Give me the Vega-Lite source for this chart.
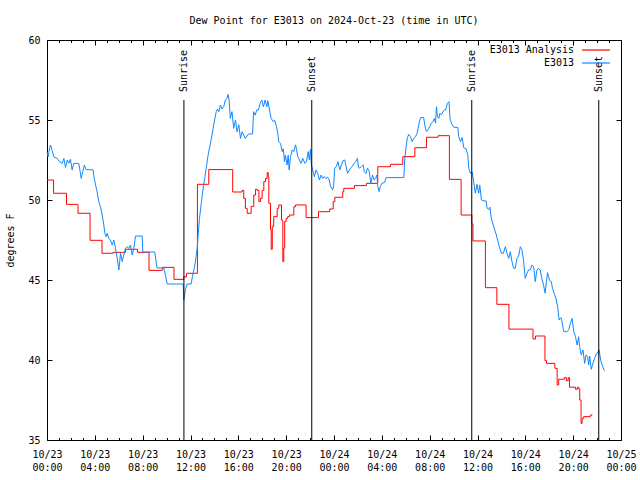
{
  "$schema": "https://vega.github.io/schema/vega-lite/v6.json",
  "width": 574,
  "height": 400,
  "autosize": {"type": "none"},
  "padding": {"left": 47, "top": 40, "right": 19, "bottom": 40},
  "background": "white",
  "config": {
    "font": "DejaVu Sans Mono",
    "view": {"stroke": "black", "strokeWidth": 1},
    "axis": {"grid": false, "domain": false, "labelFont": "DejaVu Sans Mono", "labelFontSize": 10, "labelColor": "black", "tickColor": "black", "titleFont": "DejaVu Sans Mono", "titleFontSize": 10, "titleFontWeight": "normal", "titleColor": "black"}
  },
  "title": {"text": "Dew Point for E3013 on 2024-Oct-23 (time in UTC)", "font": "DejaVu Sans Mono", "fontSize": 10, "fontWeight": "normal", "anchor": "middle", "offset": 9, "color": "black"},
  "datasets": {
    "analysis": [
      {"hour": 0, "dewpoint": 51.25}, {"hour": 0.55, "dewpoint": 50.42}, {"hour": 1.63, "dewpoint": 49.73}, {"hour": 2.59, "dewpoint": 49.17},
      {"hour": 3.6, "dewpoint": 47.48}, {"hour": 4.6, "dewpoint": 46.67}, {"hour": 5.53, "dewpoint": 46.73}, {"hour": 6.56, "dewpoint": 46.92},
      {"hour": 7.57, "dewpoint": 46.73}, {"hour": 8.53, "dewpoint": 45.6}, {"hour": 9.64, "dewpoint": 45.79}, {"hour": 10.62, "dewpoint": 45.04},
      {"hour": 11.44, "dewpoint": 45.2}, {"hour": 11.67, "dewpoint": 45.42}, {"hour": 12.58, "dewpoint": 50.98}, {"hour": 13.53, "dewpoint": 51.9},
      {"hour": 15.53, "dewpoint": 50.5}, {"hour": 16.31, "dewpoint": 50.6}, {"hour": 16.45, "dewpoint": 50.1}, {"hour": 16.59, "dewpoint": 49.48},
      {"hour": 16.74, "dewpoint": 49.17}, {"hour": 17.07, "dewpoint": 49.6}, {"hour": 17.29, "dewpoint": 50.31}, {"hour": 17.44, "dewpoint": 50.67},
      {"hour": 17.58, "dewpoint": 50.6}, {"hour": 17.72, "dewpoint": 49.9}, {"hour": 17.85, "dewpoint": 50.1}, {"hour": 17.99, "dewpoint": 50.6},
      {"hour": 18.13, "dewpoint": 51.15}, {"hour": 18.27, "dewpoint": 51.35}, {"hour": 18.41, "dewpoint": 51.71}, {"hour": 18.5, "dewpoint": 51.46},
      {"hour": 18.55, "dewpoint": 49.79}, {"hour": 18.69, "dewpoint": 48.13}, {"hour": 18.75, "dewpoint": 46.92}, {"hour": 18.84, "dewpoint": 48.33},
      {"hour": 18.96, "dewpoint": 48.96}, {"hour": 19.25, "dewpoint": 49.48}, {"hour": 19.38, "dewpoint": 49.69}, {"hour": 19.61, "dewpoint": 48.75},
      {"hour": 19.72, "dewpoint": 46.15}, {"hour": 19.8, "dewpoint": 47.0}, {"hour": 19.88, "dewpoint": 48.65}, {"hour": 20.0, "dewpoint": 48.85},
      {"hour": 20.13, "dewpoint": 48.96}, {"hour": 20.28, "dewpoint": 49.06}, {"hour": 20.64, "dewpoint": 49.58}, {"hour": 20.78, "dewpoint": 49.69},
      {"hour": 21.67, "dewpoint": 48.9}, {"hour": 22.7, "dewpoint": 49.27}, {"hour": 23.64, "dewpoint": 49.44}, {"hour": 23.93, "dewpoint": 49.9},
      {"hour": 24.07, "dewpoint": 50.17}, {"hour": 24.73, "dewpoint": 50.52}, {"hour": 24.82, "dewpoint": 50.73}, {"hour": 25.71, "dewpoint": 50.9},
      {"hour": 26.71, "dewpoint": 51.04}, {"hour": 27.66, "dewpoint": 52.08}, {"hour": 28.72, "dewpoint": 52.23}, {"hour": 29.75, "dewpoint": 52.71},
      {"hour": 30.76, "dewpoint": 53.27}, {"hour": 31.73, "dewpoint": 53.92}, {"hour": 32.71, "dewpoint": 54.02}, {"hour": 33.65, "dewpoint": 51.29},
      {"hour": 34.63, "dewpoint": 49.06}, {"hour": 35.53, "dewpoint": 48.5}, {"hour": 35.62, "dewpoint": 47.44}, {"hour": 36.66, "dewpoint": 44.52},
      {"hour": 37.62, "dewpoint": 43.48}, {"hour": 38.63, "dewpoint": 41.93}, {"hour": 40.64, "dewpoint": 41.31}, {"hour": 40.85, "dewpoint": 41.5},
      {"hour": 41.64, "dewpoint": 39.96}, {"hour": 41.77, "dewpoint": 39.79}, {"hour": 42.47, "dewpoint": 39.48}, {"hour": 42.66, "dewpoint": 38.44},
      {"hour": 42.79, "dewpoint": 38.8}, {"hour": 43.26, "dewpoint": 38.9}, {"hour": 43.43, "dewpoint": 38.7}, {"hour": 43.58, "dewpoint": 38.9},
      {"hour": 43.69, "dewpoint": 38.3}, {"hour": 44.19, "dewpoint": 38.17}, {"hour": 44.35, "dewpoint": 38.3}, {"hour": 44.46, "dewpoint": 38.2},
      {"hour": 44.55, "dewpoint": 37.5}, {"hour": 44.66, "dewpoint": 36.04}, {"hour": 44.75, "dewpoint": 36.35}, {"hour": 44.88, "dewpoint": 36.46},
      {"hour": 45.44, "dewpoint": 36.56}, {"hour": 45.58, "dewpoint": 36.6}
    ],
    "obs": [
      {"hour": 0, "dewpoint": 53.02}, {"hour": 0.1, "dewpoint": 52.7}, {"hour": 0.15, "dewpoint": 52.96}, {"hour": 0.29, "dewpoint": 53.44},
      {"hour": 0.43, "dewpoint": 53.1}, {"hour": 0.57, "dewpoint": 52.7}, {"hour": 0.85, "dewpoint": 52.6}, {"hour": 0.99, "dewpoint": 52.44},
      {"hour": 1.27, "dewpoint": 52.29}, {"hour": 1.41, "dewpoint": 52.6}, {"hour": 1.55, "dewpoint": 52.04}, {"hour": 1.69, "dewpoint": 52.5},
      {"hour": 1.83, "dewpoint": 52.3}, {"hour": 1.96, "dewpoint": 52.55}, {"hour": 2.1, "dewpoint": 51.88}, {"hour": 2.24, "dewpoint": 52.29},
      {"hour": 2.66, "dewpoint": 52.29}, {"hour": 2.75, "dewpoint": 51.88}, {"hour": 2.86, "dewpoint": 51.35}, {"hour": 2.99, "dewpoint": 51.77},
      {"hour": 3.13, "dewpoint": 52.19}, {"hour": 3.27, "dewpoint": 51.9}, {"hour": 3.86, "dewpoint": 51.88}, {"hour": 3.92, "dewpoint": 51.46},
      {"hour": 4.06, "dewpoint": 50.94}, {"hour": 4.19, "dewpoint": 50.52}, {"hour": 4.33, "dewpoint": 49.9}, {"hour": 4.47, "dewpoint": 49.58},
      {"hour": 4.61, "dewpoint": 49.06}, {"hour": 4.75, "dewpoint": 48.44}, {"hour": 4.84, "dewpoint": 47.92}, {"hour": 4.95, "dewpoint": 47.7},
      {"hour": 5.03, "dewpoint": 47.92}, {"hour": 5.17, "dewpoint": 47.6}, {"hour": 5.31, "dewpoint": 47.5}, {"hour": 5.45, "dewpoint": 47.19},
      {"hour": 5.59, "dewpoint": 47.5}, {"hour": 5.73, "dewpoint": 46.98}, {"hour": 5.87, "dewpoint": 46.35}, {"hour": 6.01, "dewpoint": 45.63},
      {"hour": 6.15, "dewpoint": 46.67}, {"hour": 6.29, "dewpoint": 46.15}, {"hour": 6.42, "dewpoint": 46.56}, {"hour": 6.56, "dewpoint": 46.98},
      {"hour": 6.7, "dewpoint": 47.08}, {"hour": 6.84, "dewpoint": 46.98}, {"hour": 6.98, "dewpoint": 47.19}, {"hour": 7.12, "dewpoint": 46.56},
      {"hour": 7.26, "dewpoint": 46.98}, {"hour": 7.4, "dewpoint": 47.75}, {"hour": 7.96, "dewpoint": 47.75}, {"hour": 8.01, "dewpoint": 46.75},
      {"hour": 9.01, "dewpoint": 46.75}, {"hour": 9.13, "dewpoint": 46.1}, {"hour": 9.21, "dewpoint": 45.75}, {"hour": 9.77, "dewpoint": 45.75},
      {"hour": 9.9, "dewpoint": 45.3}, {"hour": 10.05, "dewpoint": 44.75}, {"hour": 11.39, "dewpoint": 44.75}, {"hour": 11.44, "dewpoint": 43.75},
      {"hour": 11.58, "dewpoint": 44.4}, {"hour": 11.72, "dewpoint": 44.75}, {"hour": 12.05, "dewpoint": 44.75}, {"hour": 12.16, "dewpoint": 45.2},
      {"hour": 12.33, "dewpoint": 45.78}, {"hour": 12.47, "dewpoint": 46.46}, {"hour": 12.56, "dewpoint": 46.98}, {"hour": 12.64, "dewpoint": 47.81},
      {"hour": 12.75, "dewpoint": 48.85}, {"hour": 12.92, "dewpoint": 49.9}, {"hour": 13.05, "dewpoint": 50.73}, {"hour": 13.19, "dewpoint": 51.35},
      {"hour": 13.33, "dewpoint": 52.08}, {"hour": 13.47, "dewpoint": 52.8}, {"hour": 13.61, "dewpoint": 53.33}, {"hour": 13.75, "dewpoint": 53.85},
      {"hour": 13.89, "dewpoint": 54.48}, {"hour": 14.04, "dewpoint": 55.1}, {"hour": 14.15, "dewpoint": 55.52}, {"hour": 14.26, "dewpoint": 55.69},
      {"hour": 14.37, "dewpoint": 55.52}, {"hour": 14.5, "dewpoint": 55.94}, {"hour": 14.64, "dewpoint": 55.69}, {"hour": 14.78, "dewpoint": 55.83},
      {"hour": 14.91, "dewpoint": 56.25}, {"hour": 15.05, "dewpoint": 56.35}, {"hour": 15.13, "dewpoint": 56.6}, {"hour": 15.23, "dewpoint": 56.25},
      {"hour": 15.33, "dewpoint": 55.1}, {"hour": 15.47, "dewpoint": 55.52}, {"hour": 15.61, "dewpoint": 54.48}, {"hour": 15.76, "dewpoint": 55.0},
      {"hour": 15.89, "dewpoint": 54.27}, {"hour": 16.04, "dewpoint": 54.7}, {"hour": 16.18, "dewpoint": 53.85}, {"hour": 16.32, "dewpoint": 54.27},
      {"hour": 16.45, "dewpoint": 54.06}, {"hour": 16.59, "dewpoint": 53.85}, {"hour": 16.73, "dewpoint": 54.0}, {"hour": 16.87, "dewpoint": 54.13},
      {"hour": 17.19, "dewpoint": 54.13}, {"hour": 17.27, "dewpoint": 55.52}, {"hour": 17.41, "dewpoint": 55.3}, {"hour": 17.54, "dewpoint": 55.63},
      {"hour": 17.68, "dewpoint": 55.63}, {"hour": 17.82, "dewpoint": 56.04}, {"hour": 17.96, "dewpoint": 56.25}, {"hour": 18.1, "dewpoint": 55.83},
      {"hour": 18.24, "dewpoint": 56.25}, {"hour": 18.38, "dewpoint": 55.83}, {"hour": 18.47, "dewpoint": 56.2}, {"hour": 18.61, "dewpoint": 55.63},
      {"hour": 18.74, "dewpoint": 55.1}, {"hour": 18.91, "dewpoint": 54.9}, {"hour": 19.05, "dewpoint": 54.98}, {"hour": 19.19, "dewpoint": 54.58},
      {"hour": 19.3, "dewpoint": 54.17}, {"hour": 19.38, "dewpoint": 53.65}, {"hour": 19.53, "dewpoint": 53.54}, {"hour": 19.67, "dewpoint": 53.02},
      {"hour": 19.76, "dewpoint": 53.2}, {"hour": 19.86, "dewpoint": 52.4}, {"hour": 19.94, "dewpoint": 52.8}, {"hour": 20.08, "dewpoint": 52.19},
      {"hour": 20.17, "dewpoint": 52.8}, {"hour": 20.25, "dewpoint": 51.88}, {"hour": 20.36, "dewpoint": 52.7}, {"hour": 20.5, "dewpoint": 53.13},
      {"hour": 20.64, "dewpoint": 53.02}, {"hour": 20.78, "dewpoint": 53.44}, {"hour": 20.86, "dewpoint": 53.2}, {"hour": 20.97, "dewpoint": 52.7},
      {"hour": 21.11, "dewpoint": 52.5}, {"hour": 21.25, "dewpoint": 52.29}, {"hour": 21.39, "dewpoint": 52.6}, {"hour": 21.56, "dewpoint": 52.29},
      {"hour": 21.7, "dewpoint": 52.4}, {"hour": 21.84, "dewpoint": 53.02}, {"hour": 21.94, "dewpoint": 52.5}, {"hour": 22.03, "dewpoint": 53.17},
      {"hour": 22.11, "dewpoint": 52.19}, {"hour": 22.22, "dewpoint": 51.88}, {"hour": 22.36, "dewpoint": 51.46}, {"hour": 22.5, "dewpoint": 51.88},
      {"hour": 22.64, "dewpoint": 51.67}, {"hour": 22.78, "dewpoint": 51.25}, {"hour": 22.92, "dewpoint": 51.56}, {"hour": 23.06, "dewpoint": 51.35},
      {"hour": 23.19, "dewpoint": 51.46}, {"hour": 23.33, "dewpoint": 51.33}, {"hour": 23.47, "dewpoint": 51.42}, {"hour": 23.61, "dewpoint": 51.25},
      {"hour": 23.7, "dewpoint": 50.88}, {"hour": 23.89, "dewpoint": 50.63}, {"hour": 23.97, "dewpoint": 50.9}, {"hour": 24.06, "dewpoint": 51.98},
      {"hour": 24.19, "dewpoint": 52.08}, {"hour": 24.33, "dewpoint": 52.4}, {"hour": 24.48, "dewpoint": 51.88}, {"hour": 24.62, "dewpoint": 52.2},
      {"hour": 24.76, "dewpoint": 52.46}, {"hour": 24.9, "dewpoint": 52.5}, {"hour": 24.98, "dewpoint": 52.19}, {"hour": 25.13, "dewpoint": 51.67},
      {"hour": 25.27, "dewpoint": 51.85}, {"hour": 25.41, "dewpoint": 52.02}, {"hour": 25.54, "dewpoint": 52.1}, {"hour": 25.68, "dewpoint": 52.29},
      {"hour": 25.82, "dewpoint": 52.4}, {"hour": 25.96, "dewpoint": 52.6}, {"hour": 26.05, "dewpoint": 52.02}, {"hour": 26.16, "dewpoint": 52.0},
      {"hour": 26.31, "dewpoint": 52.1}, {"hour": 26.44, "dewpoint": 52.2}, {"hour": 26.53, "dewpoint": 51.77}, {"hour": 26.67, "dewpoint": 51.65},
      {"hour": 26.8, "dewpoint": 52.0}, {"hour": 26.94, "dewpoint": 51.8}, {"hour": 27.08, "dewpoint": 51.04}, {"hour": 27.22, "dewpoint": 51.56},
      {"hour": 27.36, "dewpoint": 51.25}, {"hour": 27.5, "dewpoint": 51.4}, {"hour": 27.58, "dewpoint": 51.56}, {"hour": 27.66, "dewpoint": 50.83},
      {"hour": 27.77, "dewpoint": 50.52}, {"hour": 27.86, "dewpoint": 50.83}, {"hour": 28.0, "dewpoint": 51.04}, {"hour": 28.24, "dewpoint": 51.1},
      {"hour": 28.35, "dewpoint": 51.4}, {"hour": 29.84, "dewpoint": 51.4}, {"hour": 29.91, "dewpoint": 52.5}, {"hour": 30.03, "dewpoint": 53.33},
      {"hour": 30.14, "dewpoint": 53.9}, {"hour": 30.25, "dewpoint": 54.1}, {"hour": 30.39, "dewpoint": 53.96}, {"hour": 30.53, "dewpoint": 53.65},
      {"hour": 30.67, "dewpoint": 53.85}, {"hour": 30.81, "dewpoint": 53.96}, {"hour": 30.95, "dewpoint": 54.17}, {"hour": 31.03, "dewpoint": 54.48},
      {"hour": 31.14, "dewpoint": 54.9}, {"hour": 31.25, "dewpoint": 55.15}, {"hour": 31.5, "dewpoint": 55.15}, {"hour": 31.59, "dewpoint": 54.69},
      {"hour": 31.72, "dewpoint": 54.27}, {"hour": 31.86, "dewpoint": 54.38}, {"hour": 32.0, "dewpoint": 54.58}, {"hour": 32.13, "dewpoint": 54.79},
      {"hour": 32.27, "dewpoint": 54.9}, {"hour": 32.4, "dewpoint": 55.1}, {"hour": 32.49, "dewpoint": 54.8}, {"hour": 32.57, "dewpoint": 55.83},
      {"hour": 32.65, "dewpoint": 55.2}, {"hour": 32.77, "dewpoint": 55.1}, {"hour": 32.85, "dewpoint": 55.4}, {"hour": 32.99, "dewpoint": 55.33},
      {"hour": 33.11, "dewpoint": 55.52}, {"hour": 33.23, "dewpoint": 55.63}, {"hour": 33.34, "dewpoint": 55.63}, {"hour": 33.48, "dewpoint": 56.04},
      {"hour": 33.62, "dewpoint": 56.15}, {"hour": 33.7, "dewpoint": 55.1}, {"hour": 33.82, "dewpoint": 54.8}, {"hour": 34.02, "dewpoint": 54.54},
      {"hour": 34.35, "dewpoint": 54.54}, {"hour": 34.43, "dewpoint": 53.96}, {"hour": 34.57, "dewpoint": 53.65}, {"hour": 34.71, "dewpoint": 53.9},
      {"hour": 34.85, "dewpoint": 53.27}, {"hour": 35.04, "dewpoint": 53.2}, {"hour": 35.19, "dewpoint": 52.8}, {"hour": 35.27, "dewpoint": 51.98},
      {"hour": 35.41, "dewpoint": 51.67}, {"hour": 35.55, "dewpoint": 51.75}, {"hour": 35.68, "dewpoint": 51.15}, {"hour": 35.82, "dewpoint": 50.42},
      {"hour": 35.96, "dewpoint": 50.98}, {"hour": 36.1, "dewpoint": 50.42}, {"hour": 36.19, "dewpoint": 50.94}, {"hour": 36.33, "dewpoint": 50.0},
      {"hour": 36.53, "dewpoint": 49.95}, {"hour": 36.72, "dewpoint": 49.94}, {"hour": 36.81, "dewpoint": 49.48}, {"hour": 36.95, "dewpoint": 49.4},
      {"hour": 37.04, "dewpoint": 49.55}, {"hour": 37.16, "dewpoint": 48.81}, {"hour": 37.3, "dewpoint": 48.48}, {"hour": 37.44, "dewpoint": 48.13},
      {"hour": 37.58, "dewpoint": 47.81}, {"hour": 37.71, "dewpoint": 47.4}, {"hour": 37.85, "dewpoint": 47.02}, {"hour": 37.99, "dewpoint": 46.67},
      {"hour": 38.16, "dewpoint": 46.67}, {"hour": 38.33, "dewpoint": 47.08}, {"hour": 38.47, "dewpoint": 46.67}, {"hour": 38.61, "dewpoint": 46.35},
      {"hour": 38.74, "dewpoint": 46.77}, {"hour": 38.88, "dewpoint": 46.15}, {"hour": 39.02, "dewpoint": 45.73}, {"hour": 39.16, "dewpoint": 45.73},
      {"hour": 39.3, "dewpoint": 46.35}, {"hour": 39.44, "dewpoint": 46.5}, {"hour": 39.58, "dewpoint": 47.08}, {"hour": 39.71, "dewpoint": 46.9},
      {"hour": 39.85, "dewpoint": 46.23}, {"hour": 39.99, "dewpoint": 45.1}, {"hour": 40.13, "dewpoint": 45.4}, {"hour": 40.27, "dewpoint": 45.63},
      {"hour": 40.41, "dewpoint": 45.63}, {"hour": 40.55, "dewpoint": 45.94}, {"hour": 40.69, "dewpoint": 45.83}, {"hour": 40.83, "dewpoint": 44.9},
      {"hour": 40.96, "dewpoint": 45.6}, {"hour": 41.1, "dewpoint": 45.73}, {"hour": 41.24, "dewpoint": 45.63}, {"hour": 41.38, "dewpoint": 45.1},
      {"hour": 41.52, "dewpoint": 44.69}, {"hour": 41.66, "dewpoint": 44.17}, {"hour": 41.76, "dewpoint": 44.9}, {"hour": 41.86, "dewpoint": 45.46},
      {"hour": 41.95, "dewpoint": 45.2}, {"hour": 42.03, "dewpoint": 44.96}, {"hour": 42.17, "dewpoint": 44.9}, {"hour": 42.27, "dewpoint": 44.48},
      {"hour": 42.41, "dewpoint": 44.17}, {"hour": 42.56, "dewpoint": 43.85}, {"hour": 42.7, "dewpoint": 43.33}, {"hour": 42.83, "dewpoint": 42.5},
      {"hour": 42.97, "dewpoint": 42.65}, {"hour": 43.07, "dewpoint": 42.4}, {"hour": 43.21, "dewpoint": 41.77}, {"hour": 43.49, "dewpoint": 41.77},
      {"hour": 43.63, "dewpoint": 41.9}, {"hour": 43.77, "dewpoint": 42.29}, {"hour": 43.91, "dewpoint": 42.6}, {"hour": 44.05, "dewpoint": 41.77},
      {"hour": 44.19, "dewpoint": 41.46}, {"hour": 44.33, "dewpoint": 40.94}, {"hour": 44.46, "dewpoint": 41.46}, {"hour": 44.54, "dewpoint": 40.85},
      {"hour": 44.68, "dewpoint": 40.31}, {"hour": 44.82, "dewpoint": 40.63}, {"hour": 44.96, "dewpoint": 39.79}, {"hour": 45.07, "dewpoint": 40.31},
      {"hour": 45.21, "dewpoint": 40.21}, {"hour": 45.3, "dewpoint": 39.69}, {"hour": 45.38, "dewpoint": 40.25}, {"hour": 45.51, "dewpoint": 39.42},
      {"hour": 45.65, "dewpoint": 39.79}, {"hour": 45.79, "dewpoint": 40.1}, {"hour": 45.95, "dewpoint": 40.38}, {"hour": 46.11, "dewpoint": 40.56},
      {"hour": 46.17, "dewpoint": 40.63}, {"hour": 46.3, "dewpoint": 40.0}, {"hour": 46.42, "dewpoint": 39.69}, {"hour": 46.49, "dewpoint": 39.54},
      {"hour": 46.62, "dewpoint": 39.33}
    ],
    "sun": [
      {"hour": 11.45, "event": "Sunrise"},
      {"hour": 22.14, "event": "Sunset"},
      {"hour": 35.52, "event": "Sunrise"},
      {"hour": 46.14, "event": "Sunset"}
    ]
  },
  "layer": [
    {
      "data": {"name": "analysis"},
      "transform": [{"calculate": "'E3013 Analysis'", "as": "series"}],
      "mark": {"type": "line", "interpolate": "step-after", "strokeWidth": 1},
      "encoding": {
        "x": {"field": "hour", "type": "quantitative", "scale": {"domain": [0, 48], "nice": false, "zero": false},
          "axis": {"orient": "bottom", "values": [0,1,2,3,4,5,6,7,8,9,10,11,12,13,14,15,16,17,18,19,20,21,22,23,24,25,26,27,28,29,30,31,32,33,34,35,36,37,38,39,40,41,42,43,44,45,46,47,48],
            "tickSize": {"condition": {"test": "datum.value % 4 === 0", "value": -5}, "value": -2.5},
            "labelExpr": "datum.value % 4 === 0 ? [datum.value < 24 ? '10/23' : datum.value < 48 ? '10/24' : '10/25', (datum.value % 24 < 10 ? '0' : '') + (datum.value % 24) + ':00'] : ''",
            "labelOverlap": false, "labelFlush": false, "labelPadding": 14, "labelBaseline": "top", "labelLineHeight": 13, "title": null}},
        "y": {"field": "dewpoint", "type": "quantitative", "scale": {"domain": [35, 60], "nice": false, "zero": false},
          "axis": {"orient": "left", "values": [35, 40, 45, 50, 55, 60], "tickSize": -5, "labelPadding": 12, "title": "degrees F", "titlePadding": 12}},
        "color": {"field": "series", "type": "nominal",
          "scale": {"domain": ["E3013 Analysis", "E3013"], "range": ["#ff0000", "#1088ff"]},
          "legend": {"orient": "none", "legendX": 541, "legendY": 2, "title": null, "symbolType": "M-2,0H2", "symbolSize": 196, "symbolStrokeWidth": 1.2, "labelAlign": "right", "labelOffset": -30, "labelFont": "DejaVu Sans Mono", "labelFontSize": 10, "labelColor": "black", "rowPadding": 0, "padding": 0, "labelLimit": 300,
            "encode": {"symbols": {"update": {"stroke": {"scale": "color", "field": "value"}, "opacity": {"value": 1}}}}}}
      }
    },
    {
      "data": {"name": "obs"},
      "transform": [{"calculate": "'E3013'", "as": "series"}],
      "mark": {"type": "line", "strokeWidth": 1},
      "encoding": {
        "x": {"field": "hour", "type": "quantitative",
          "axis": {"orient": "top", "values": [0,1,2,3,4,5,6,7,8,9,10,11,12,13,14,15,16,17,18,19,20,21,22,23,24,25,26,27,28,29,30,31,32,33,34,35,36,37,38,39,40,41,42,43,44,45,46,47,48],
            "tickSize": {"condition": {"test": "datum.value % 4 === 0", "value": -5}, "value": -2.5},
            "labels": false, "title": null}},
        "y": {"field": "dewpoint", "type": "quantitative",
          "axis": {"orient": "right", "values": [35, 40, 45, 50, 55, 60], "tickSize": -5, "labels": false, "title": null}},
        "color": {"field": "series", "type": "nominal",
          "legend": {"orient": "none", "legendX": 541, "legendY": 2, "title": null, "symbolType": "M-2,0H2", "symbolSize": 196, "symbolStrokeWidth": 1.2, "labelAlign": "right", "labelOffset": -30, "labelFont": "DejaVu Sans Mono", "labelFontSize": 10, "labelColor": "black", "rowPadding": 0, "padding": 0, "labelLimit": 300,
            "encode": {"symbols": {"update": {"stroke": {"scale": "color", "field": "value"}, "opacity": {"value": 1}}}}}}
      }
    },
    {
      "data": {"name": "sun"},
      "mark": {"type": "rule", "color": "black", "strokeWidth": 1},
      "encoding": {
        "x": {"field": "hour", "type": "quantitative", "axis": null},
        "y": {"datum": 35, "axis": null},
        "y2": {"datum": 56.25}
      }
    },
    {
      "data": {"name": "sun"},
      "mark": {"type": "text", "angle": 270, "align": "left", "baseline": "middle", "font": "DejaVu Sans Mono", "fontSize": 10, "color": "black"},
      "encoding": {
        "x": {"field": "hour", "type": "quantitative", "axis": null},
        "y": {"datum": 56.75, "axis": null},
        "text": {"field": "event"}
      }
    }
  ],
  "resolve": {"axis": {"x": "independent", "y": "independent"}}
}
